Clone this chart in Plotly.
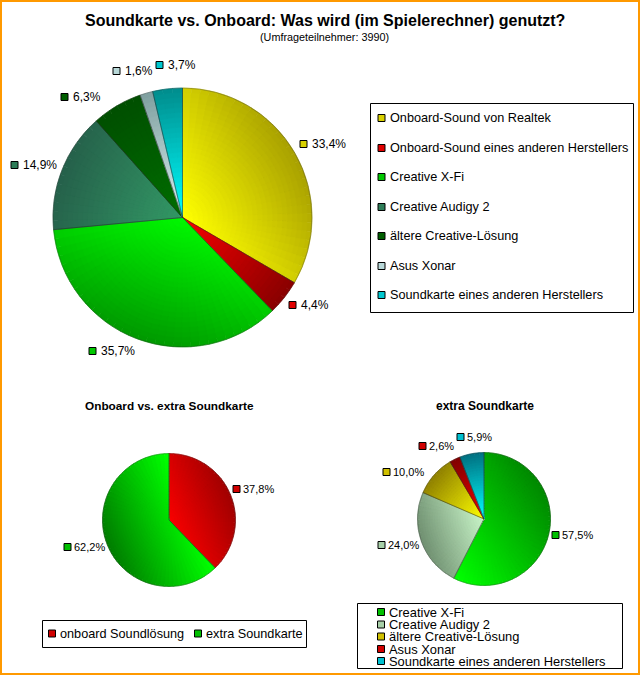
import math
import plotly.graph_objects as go

W = 640
H = 675

main_labels = ["Onboard-Sound von Realtek", "Onboard-Sound eines anderen Herstellers", "Creative X-Fi",
               "Creative Audigy 2", "ältere Creative-Lösung", "Asus Xonar", "Soundkarte eines anderen Herstellers"]
main_values = [33.4, 4.4, 35.7, 14.9, 6.3, 1.6, 3.7]

split_labels = ["onboard Soundlösung", "extra Soundkarte"]
split_values = [37.8, 62.2]

extra_labels = ["Creative X-Fi", "Creative Audigy 2", "ältere Creative-Lösung", "Asus Xonar",
                "Soundkarte eines anderen Herstellers"]
extra_values = [57.5, 24.0, 10.0, 2.6, 5.9]

# bright / dark colour of every slice, the old chart has gradients and pie has none
main_inner = ["#ffff00", "#f80000", "#00f800", "#339966", "#006e00", "#d8f0f0", "#00ffff"]
main_outer = ["#a8a000", "#880000", "#009800", "#25604a", "#004f00", "#7f9f9f", "#008c8c"]
split_inner = ["#f80000", "#00ff00"]
split_outer = ["#a00000", "#007c00"]
extra_inner = ["#00ff00", "#c8f4c8", "#ffff00", "#f00000", "#00ffff"]
extra_outer = ["#008800", "#6f8f70", "#8f8000", "#800000", "#006f80"]

# legend / label square colours
main_swatch = ["#d8d000", "#e00000", "#00c800", "#2e7d58", "#005f00", "#b8d8d8", "#00c8d0"]
split_swatch = ["#d00000", "#00c000"]
extra_swatch = ["#00c000", "#a8d0a8", "#d0c000", "#d00000", "#00c0d0"]

RINGS = 26
STEP = 4  # degrees per shaded sector


def px(x):
    return x / W


def py(y):
    return 1 - y / H


def mix(a, b, t):
    ca = [int(a[i:i + 2], 16) for i in (1, 3, 5)]
    cb = [int(b[i:i + 2], 16) for i in (1, 3, 5)]
    return "rgb(%d,%d,%d)" % tuple(round(ca[i] + (cb[i] - ca[i]) * t) for i in range(3))


def add_pie(fig, labels, values, inner, outer, cx, cy, r, turn=None):
    # each slice is cut in thin sectors and the discs are stacked big to small,
    # that gives the linear shading from the centre to the slice's outer edge
    total = sum(values)
    pieces = []
    start = 0
    for k, v in enumerate(values):
        angle = 360 * v / total
        aim = start + angle / 2 if turn is None or turn[k] is None else turn[k]
        n = max(1, round(angle / STEP))
        mids = [start + angle * (j + 0.5) / n for j in range(n)]
        low = min(0, min(math.cos(math.radians(m - aim)) for m in mids))
        for m in mids:
            pieces.append((v / n, math.cos(math.radians(m - aim)), low, inner[k], outer[k]))
        start += angle
    part_values = [p[0] for p in pieces]

    for n in range(RINGS):
        t = 1 - n / RINGS
        rr = r * t
        cols = [mix(p[3], p[4], ((t - 0.5 / RINGS) * p[1] - p[2]) / (1 - p[2])) for p in pieces]
        fig.add_trace(go.Pie(
            values=part_values, sort=False, direction="clockwise", rotation=0,
            domain=dict(x=[px(cx - rr), px(cx + rr)], y=[py(cy + rr), py(cy - rr)]),
            marker=dict(colors=cols, line=dict(width=0.6, color=cols)),
            textinfo="none", showlegend=False, hoverinfo="skip",
        ))
    fig.add_trace(go.Pie(
        labels=labels, values=values, sort=False, direction="clockwise", rotation=0,
        domain=dict(x=[px(cx - r), px(cx + r)], y=[py(cy + r), py(cy - r)]),
        marker=dict(colors=["rgba(0,0,0,0)"] * len(values), line=dict(width=0.7, color="rgba(40,40,40,0.45)")),
        textinfo="none", showlegend=False, hoverinfo="label+percent",
    ))


fig = go.Figure()
add_pie(fig, main_labels, main_values, main_inner, main_outer, 182.5, 217.5, 129.5)
add_pie(fig, split_labels, split_values, split_inner, split_outer, 169, 520, 66.5)
add_pie(fig, extra_labels, extra_values, extra_inner, extra_outer, 484, 519, 66.5, turn=[55, None, None, None, None])

shapes = []
notes = []


def text(x, y, s, size=12, anchor="left", bold=False):
    notes.append(dict(x=px(x), y=py(y), xref="paper", yref="paper", text="<b>%s</b>" % s if bold else s,
                      showarrow=False, xanchor=anchor, yanchor="middle", borderpad=0,
                      font=dict(size=size, color="black", family="Liberation Sans")))


def box(x0, y0, x1, y1, fill="white", width=1, color="black"):
    shapes.append(dict(type="rect", xref="paper", yref="paper", x0=px(x0), x1=px(x1), y0=py(y1), y1=py(y0),
                       fillcolor=fill, line=dict(color=color, width=width), layer="below"))


def swatch(x, y, color, s=7):
    shapes.append(dict(type="rect", xref="paper", yref="paper", x0=px(x), x1=px(x + s), y0=py(y + s / 2),
                       y1=py(y - s / 2), fillcolor=color, line=dict(color="black", width=1), layer="above"))


def pct(v):
    return ("%.1f%%" % v).replace(".", ",")


# percent labels: square x, centre y
main_pos = [(300, 144), (289, 305), (89, 351), (11, 165), (61, 97), (113, 71), (156, 65)]
split_pos = [(233, 489), (64, 547)]
extra_pos = [(552, 535), (378, 545), (383, 472), (419, 446), (457, 437)]

for v, (x, y), c in zip(main_values, main_pos, main_swatch):
    swatch(x, y, c)
    text(x + 11, y, pct(v))
for vals, pos, cols in [(split_values, split_pos, split_swatch), (extra_values, extra_pos, extra_swatch)]:
    for v, (x, y), c in zip(vals, pos, cols):
        swatch(x, y, c)
        text(x + 9, y, pct(v), size=11)

# legends are drawn by hand, plotly can't set the row spacing of the old chart
box(370.5, 103.5, 633.5, 312.5)
for lab, c, y in zip(main_labels, main_swatch, [118, 148, 177, 207, 236, 266, 295]):
    swatch(378, y, c)
    text(389, y, lab, size=12.7)

box(42.5, 620.5, 306.5, 647.5)
for lab, c, x in zip(split_labels, split_swatch, [48.5, 194.5]):
    swatch(x, 633.5, c)
    text(x + 10.5, 633.5, lab, size=12.7)

box(357.5, 603.5, 622.5, 668.5)
for lab, c, y in zip(extra_labels, extra_swatch, [612, 624.5, 636.5, 649, 661]):
    swatch(377.5, y, c)
    text(388, y, lab, size=12.9)

text(325, 20, "Soundkarte vs. Onboard: Was wird (im Spielerechner) genutzt?", size=16, anchor="center", bold=True)
text(324, 37, "(Umfrageteilnehmer: 3990)", size=10.8, anchor="center")
text(169.5, 406, "Onboard vs. extra Soundkarte", size=11.8, anchor="center", bold=True)
text(485, 406, "extra Soundkarte", size=12, anchor="center", bold=True)

# orange frame around the whole picture
box(1, 1, 639, 674, fill="rgba(0,0,0,0)", width=2, color="#ff9900")

fig.update_layout(
    width=W, height=H, margin=dict(l=0, r=0, t=0, b=0, pad=0), showlegend=False,
    paper_bgcolor="white", plot_bgcolor="white",
    font=dict(family="Liberation Sans"), shapes=shapes, annotations=notes,
)

fig.write_html("out.html", config=dict(displayModeBar=False), post_script="document.body.style.margin='0';")
